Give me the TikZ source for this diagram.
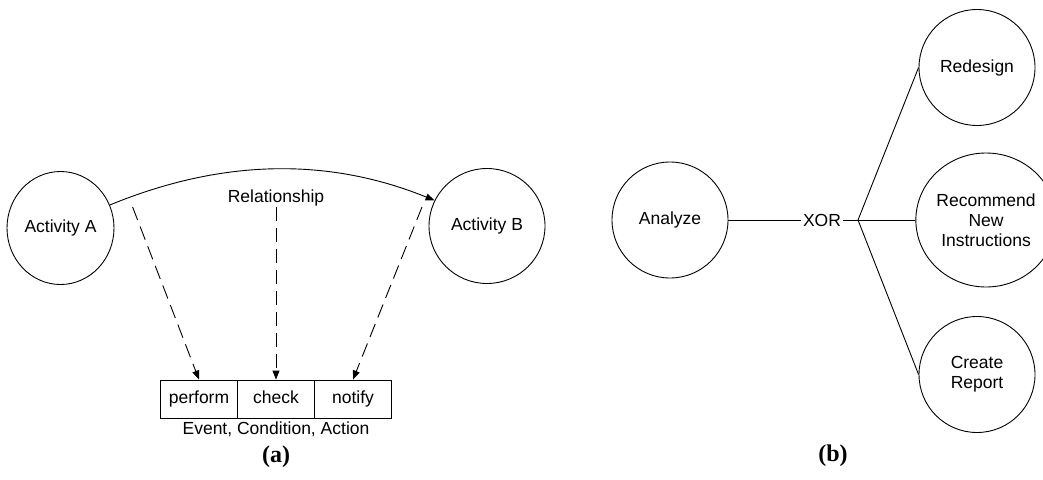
\documentclass[tikz,border=0pt]{standalone}
\usepackage{fontspec}
\setmainfont{Liberation Sans}
\newfontfamily\labelfont{Liberation Serif}
\usetikzlibrary{shapes.geometric,arrows.meta}
\begin{document}
\begin{tikzpicture}[x=1pt,y=-1pt,
  every node/.style={font=\fontsize{17.5}{20}\selectfont},
  activity/.style={draw,ellipse,inner sep=0pt,align=center,line width=0.9pt},
  cell/.style={draw,rectangle,inner sep=0pt,minimum width=77pt,minimum height=38pt,
    text height=12.5pt,text depth=4pt,line width=0.9pt},
  link/.style={line width=0.9pt},
  tip/.style={-{Triangle[length=9pt,width=7pt]}},
  dep/.style={link,tip,dash pattern=on 14pt off 7pt},
  caption/.style={font=\labelfont\bfseries\fontsize{24}{28}\selectfont}]
\useasboundingbox (0,0) rectangle (1043,479);

% ---- (a) relationship between two activities ----
\node[activity,minimum width=107pt,minimum height=113pt] (A) at (60.5,228) {Activity A};
\node[activity,minimum width=116pt,minimum height=115pt] (B) at (487,226) {Activity B};
\node[inner sep=1pt] (rel) at (276,197.5) {Relationship};

\node[cell] (perform) at (199,399) {perform};
\node[cell] (check)   at (276,399) {check};
\node[cell] (notify)  at (353,399) {notify};
\node (eca) at (276,429) {Event, Condition, Action};
\node[caption] (capa) at (276,457) {(a)};

\draw[link,tip] (A.25) .. controls (224,158) and (330,158) .. (B.154);

\coordinate (fromA) at (132.6,207);
\coordinate (fromB) at (422,207);
\draw[dep] (fromA) -- (perform.north);
\draw[dep] (rel.south) -- (check.north);
\draw[dep] (fromB) -- (notify.north);

% ---- (b) exclusive choice after analysis ----
\node[activity,minimum width=116pt,minimum height=116pt] (analyze) at (670,220) {Analyze};
\node[inner sep=1.5pt] (xor) at (822,220) {XOR};
\coordinate (fork) at (858,220);
\node[activity,minimum width=116pt,minimum height=116pt] (redesign) at (977,67.5) {Redesign};
\node[activity,minimum width=134pt,minimum height=134pt] (recommend) at (986,220) {Recommend\\New\\Instructions};
\node[activity,minimum width=116pt,minimum height=116pt] (report) at (977,374.5) {Create\\Report};
\node[caption] (capb) at (833,456) {(b)};

\draw[link] (analyze.east) -- (xor.west);
\draw[link] (xor.east) -- (fork);
\draw[link] (fork) -- (redesign.west);
\draw[link] (fork) -- (recommend.west);
\draw[link] (fork) -- (report.west);
\end{tikzpicture}
\end{document}
